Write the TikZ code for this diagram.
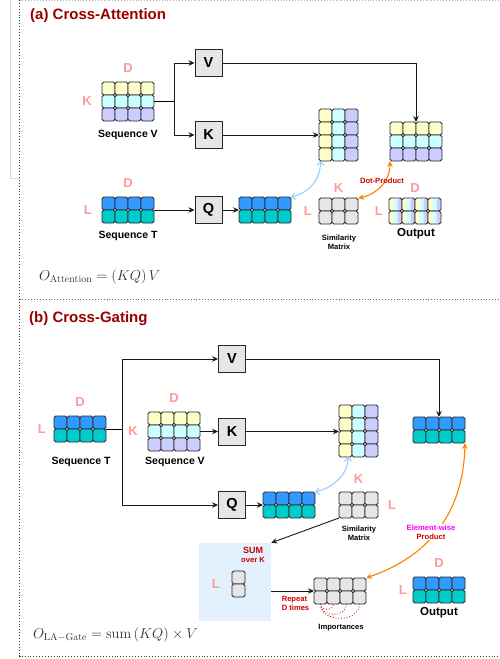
\documentclass[tikz,border=0pt]{standalone}
\usepackage{amsmath}
\usepackage{fontspec}
\newfontfamily\arialf{Liberation Sans}
\usetikzlibrary{arrows.meta,positioning,calc}
\definecolor{ttlred}{HTML}{990000}
\definecolor{notered}{HTML}{CC0000}
\definecolor{magtxt}{HTML}{FF00FF}
\definecolor{dimpink}{HTML}{FF9999}
\definecolor{cellyel}{HTML}{FFFFCC}
\definecolor{cellcyn}{HTML}{CCFFFF}
\definecolor{celllav}{HTML}{CCCCFF}
\definecolor{cellblu}{HTML}{3399FF}
\definecolor{celltea}{HTML}{00CCCC}
\definecolor{cellgry}{HTML}{E6E6E6}
\definecolor{linkblu}{HTML}{99CCFF}
\definecolor{linkorg}{HTML}{FF8000}
\definecolor{sumbg}{HTML}{E3F0FD}
\tikzset{
  cell/.style={draw=black!85,line width=0.9pt,rounded corners=1.8pt},
  stripecell/.style={path picture={
    \fill[cellyel] (path picture bounding box.north west) rectangle ++(4.5,13);
    \fill[cellcyn] ($(path picture bounding box.north west)+(4.5,0)$) rectangle ++(4.2,13);
    \fill[celllav] ($(path picture bounding box.north west)+(8.7,0)$) rectangle ++(4.5,13);}},
  matframe/.style={inner sep=0pt,outer sep=0pt,anchor=north west},
  opbox/.style={draw=black!85,fill=cellgry,line width=0.9pt,minimum width=27pt,minimum height=27pt,inner sep=0pt,font=\arialf\bfseries\fontsize{14.5}{15}\selectfont},
  dimlbl/.style={inner sep=0pt,font=\arialf\bfseries\fontsize{13}{13}\selectfont,text=dimpink},
  seqlbl/.style={inner sep=0pt,font=\arialf\bfseries\fontsize{10.5}{12}\selectfont},
  outlbl/.style={inner sep=0pt,font=\arialf\bfseries\fontsize{11.5}{13}\selectfont},
  smalltxt/.style={inner sep=0pt,align=center,font=\arialf\bfseries\fontsize{7.6}{9}\selectfont},
  notetxt/.style={smalltxt,text=notered},
  paneltitle/.style={anchor=west,inner sep=0pt,font=\arialf\bfseries\fontsize{15}{18}\selectfont,text=ttlred},
  formula/.style={anchor=west,inner sep=0pt,text=black!80,font=\fontsize{14.4}{16}\selectfont},
  sumarea/.style={fill=sumbg,inner sep=0pt,minimum width=72pt,minimum height=78pt},
  arr/.style={-{Stealth[length=6pt,width=5.5pt]},line width=0.9pt,draw=black!90},
  arrb/.style={{Straight Barb[length=3.5pt,width=7pt]}-{Straight Barb[length=3.5pt,width=7pt]},line width=1.1pt,draw=linkblu},
  arro/.style={{Stealth[length=6pt,width=5.5pt]}-{Stealth[length=6pt,width=5.5pt]},line width=1.1pt,draw=linkorg},
  repdot/.style={dotted,line width=0.8pt,draw=notered},
  panelline/.style={dotted,line width=0.9pt,draw=black!75},
}
% name, NW corner, columns, rows, row colours (top to bottom)
\newcommand{\rowmat}[5]{%
  \node[matframe,minimum width=#3*13pt,minimum height=#4*13pt] (#1) at (#2) {};
  \foreach \clr [count=\rw] in {#5}
    \foreach \cl in {1,...,#3}
      \draw[cell,fill=\clr] ($(#1.north west)+(\cl*13-13,\rw*13-13)$) rectangle ++(13,13);
}
% name, NW corner, columns, rows, column colours (left to right)
\newcommand{\colmat}[5]{%
  \node[matframe,minimum width=#3*13pt,minimum height=#4*13pt] (#1) at (#2) {};
  \foreach \clr [count=\cl] in {#5}
    \foreach \rw in {1,...,#4}
      \draw[cell,fill=\clr] ($(#1.north west)+(\cl*13-13,\rw*13-13)$) rectangle ++(13,13);
}
\newcommand{\stripmat}[4]{%
  \node[matframe,minimum width=#3*13pt,minimum height=#4*13pt] (#1) at (#2) {};
  \foreach \rw in {1,...,#4}
    \foreach \cl in {1,...,#3}
      \draw[cell,stripecell] ($(#1.north west)+(\cl*13-13,\rw*13-13)$) rectangle ++(13,13);
}
\begin{document}
\begin{tikzpicture}[x=1pt,y=-1pt]
\useasboundingbox (0,0) rectangle (499,659);
\draw[black!15,line width=0.8pt] (10,0) -- (10,178) -- (19.5,178);
\draw[panelline,draw=black!30] (19.5,0.5) -- (499,0.5);
\draw[panelline] (19.5,0) -- (19.5,656) -- (499,656);
\draw[panelline,draw=black!60] (19.5,299) -- (499,299);

% (a)
\node[paneltitle] (ttlA) at (30,16) {(a) Cross-Attention};
\rowmat{seqV}{102,82}{4}{3}{cellyel,cellcyn,celllav}
\node[dimlbl,above=9pt of seqV] {D};
\node[dimlbl,left=10pt of seqV] {K};
\node[seqlbl] at (128,135) {Sequence V};
\node[opbox] (vA) at (208.5,63) {V};
\node[opbox] (kA) at (208.5,135) {K};
\coordinate (splitA) at (174,101.5);
\draw[line width=0.9pt] (seqV.east) -- (splitA);
\draw[arr] (splitA) |- (vA); \draw[arr] (splitA) |- (kA);
\colmat{kmatA}{319,109}{3}{4}{cellyel,cellcyn,celllav}
\rowmat{vmatA}{390,122}{4}{3}{cellyel,cellcyn,celllav}
\draw[arr] (kA) -- (kmatA); \draw[arr] (vA) -| (vmatA);
\rowmat{seqT}{102,197}{4}{2}{cellblu,celltea}
\node[dimlbl,above=9pt of seqT] {D};
\node[dimlbl,left=10pt of seqT] {L};
\node[seqlbl] at (128,236) {Sequence T};
\node[opbox] (qA) at (208.5,210) {Q};
\rowmat{qmatA}{239,197}{4}{2}{cellblu,celltea}
\draw[arr] (seqT) -- (qA); \draw[arr] (qA) -- (qmatA);
\rowmat{simA}{319,198}{3}{2}{cellgry,cellgry}
\node[dimlbl,above=5pt of simA] {K};
\node[dimlbl,left=7pt of simA] {L};
\node[smalltxt] at (339,242) {Similarity\\Matrix};
\stripmat{outA}{389,198}{4}{2}
\node[dimlbl,above=5pt of outA] {D};
\node[dimlbl,left=6pt of outA] {L};
\node[outlbl] at (416,234) {Output};
\draw[arrb] ($(kmatA.south west)+(1.5,0)$) .. controls +(0,22) and +(14,-3) .. (qmatA.north east);
\draw[arro] (vmatA.south west) .. controls +(0,24) and +(13,-2) .. (simA.north east);
\node[notetxt] at (382,181) {Dot-Product};
\node[formula] at (39,277) {$O_{\text{Attention}} = (KQ)\,V$};

% (b)
\node[paneltitle] (ttlB) at (29,319) {(b) Cross-Gating};
\rowmat{seqTb}{54,416}{4}{2}{cellblu,celltea}
\node[dimlbl,above=9pt of seqTb] {D};
\node[dimlbl,left=8pt of seqTb] {L};
\node[seqlbl] at (81,462) {Sequence T};
\rowmat{seqVb}{148,412}{4}{3}{cellyel,cellcyn,celllav}
\node[dimlbl,above=9pt of seqVb] {D};
\node[dimlbl,left=10pt of seqVb] {K};
\node[seqlbl] at (175,462) {Sequence V};
\node[opbox] (vB) at (232,359) {V};
\node[opbox] (kB) at (232,431.5) {K};
\node[opbox] (qB) at (232,505) {Q};
\coordinate (splitB) at (122,429);
\draw[line width=0.9pt] (seqTb.east) -- (splitB);
\draw[arr] (splitB) |- (vB); \draw[arr] (splitB) |- (qB);
\draw[arr] (seqVb) -- (kB);
\colmat{kmatB}{339,405}{3}{4}{cellyel,cellcyn,celllav}
\draw[arr] (kB) -- (kmatB.west |- kB);
\rowmat{qmatB}{263,492}{4}{2}{cellblu,celltea}
\draw[arr] (qB) -- (qmatB);
\rowmat{simB}{339,492}{3}{2}{cellgry,cellgry}
\node[dimlbl,above=8pt of simB] {K};
\node[dimlbl,right=10pt of simB] {L};
\node[smalltxt] at (359,533.5) {Similarity\\Matrix};
\rowmat{outtopB}{413,417}{4}{2}{cellblu,celltea}
\draw[arr] (vB) -| (outtopB);
\draw[arrb] ($(kmatB.south)+(-10.5,0)$) .. controls +(0,20) and +(14,-3) .. (qmatB.north east);
\node[sumarea] (sumB) at (235,582) {};
\node[notetxt] at (253,555) {{\fontsize{9}{10}\selectfont SUM}\\over K};
\rowmat{sumvec}{232,571}{1}{2}{cellgry,cellgry}
\node[dimlbl,left=12pt of sumvec] {L};
\draw[arr] (simB.south west) -- (sumB.north east);
\rowmat{impB}{314,578}{4}{2}{cellgry,cellgry}
\draw[arr] (sumB.east |- impB.west) -- (impB.west);
\node[notetxt,align=left] at (295.5,603) {Repeat\\D times};
\foreach \j/\dep in {2/7,3/14,4/19}
  \draw[repdot] ($(impB.south west)+(6.5,0)$) .. controls +(0,\dep) and +(0,\dep) .. ($(impB.south west)+(\j*13-6.5,0)$);
\node[smalltxt] at (341,628) {Importances};
\rowmat{outB}{413,577}{4}{2}{cellblu,celltea}
\node[dimlbl,above=9pt of outB] {D};
\node[dimlbl,left=6pt of outB] {L};
\node[outlbl] at (439,613) {Output};
\draw[arro] (outtopB.south east) .. controls +(-2,75) and +(58,-20) .. (impB.north east);
\node[notetxt,fill=white,inner sep=1pt] at (431,532) {{\color{magtxt}Element-wise}\\Product};
\node[formula] at (33,635) {$O_{\mathrm{LA}-\mathrm{Gate}} = \mathrm{sum}\,(KQ)\times V$};
\end{tikzpicture}
\end{document}
